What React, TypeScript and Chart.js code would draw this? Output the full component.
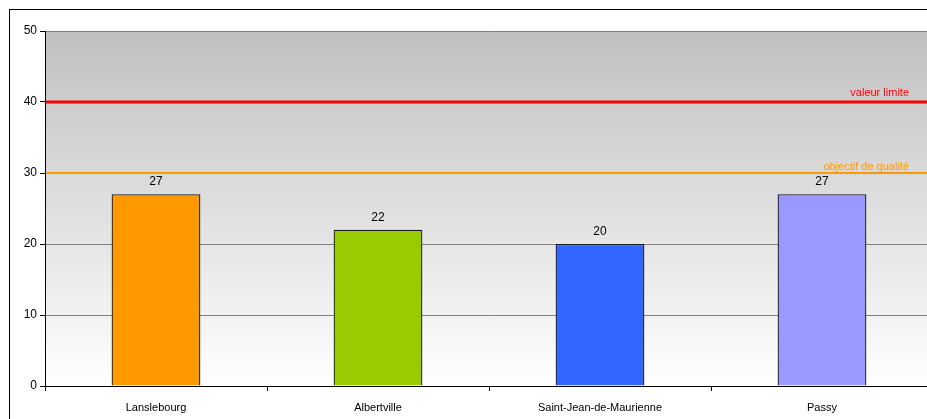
import React, { useEffect, useRef } from "react";
import { Chart, registerables } from "chart.js";

Chart.register(...registerables);

const categories = ["Lanslebourg", "Albertville", "Saint-Jean-de-Maurienne", "Passy"];
const values = [27, 22, 20, 27];
const barColors = ["#ff9900", "#99cc00", "#3366ff", "#9999ff"];
const limitValues = [40, 30];
const limitLabels = ["valeur limite", "objectif de qualité"];
const limitColors = ["#ff0000", "#ff9900"];
const limitWidths = [3, 2];
const yMin = 0;
const yMax = 50;
const yStep = 10;

const FONT = "'Liberation Sans', Arial, sans-serif";

const bgPlugin = {
  id: "bgGradient",
  beforeDraw(chart: any) {
    const { ctx, chartArea } = chart;
    if (!chartArea) return;
    const { left, top, right, bottom } = chartArea;
    const g = ctx.createLinearGradient(0, top, 0, bottom);
    g.addColorStop(0, "#c0c0c0");
    g.addColorStop(1, "#ffffff");
    ctx.save();
    ctx.fillStyle = g;
    ctx.fillRect(left, top, right - left, bottom - top);
    ctx.restore();
  },
};

const limitPlugin = {
  id: "limits",
  afterDatasetsDraw(chart: any) {
    const { ctx, chartArea, scales } = chart;
    const y = scales.y;
    ctx.save();
    limitValues.forEach((v, i) => {
      const py = y.getPixelForValue(v);
      ctx.strokeStyle = limitColors[i];
      ctx.lineWidth = limitWidths[i];
      ctx.beginPath();
      ctx.moveTo(chartArea.left + 1, py);
      ctx.lineTo(chartArea.right, py);
      ctx.stroke();
      ctx.fillStyle = limitColors[i];
      ctx.font = `11px ${FONT}`;
      ctx.textAlign = "right";
      ctx.textBaseline = "alphabetic";
      ctx.fillText(limitLabels[i], 899, py - (i === 0 ? 6 : 3));
    });
    ctx.restore();
  },
};

const valueLabelPlugin = {
  id: "valueLabels",
  afterDatasetsDraw(chart: any) {
    const { ctx } = chart;
    const meta = chart.getDatasetMeta(0);
    ctx.save();
    ctx.fillStyle = "#000";
    ctx.font = `12px ${FONT}`;
    ctx.textAlign = "center";
    ctx.textBaseline = "alphabetic";
    meta.data.forEach((bar: any, i: number) => {
      ctx.fillText(String(values[i]), bar.x, bar.y - 9);
    });
    ctx.restore();
  },
};

export default function App() {
  const ref = useRef<HTMLCanvasElement>(null);
  useEffect(() => {
    if (!ref.current) return;
    const chart = new Chart(ref.current, {
      type: "bar",
      data: {
        labels: categories,
        datasets: [
          {
            data: values,
            backgroundColor: barColors,
            borderColor: "#1a1a1a",
            borderWidth: 1.3,
            barPercentage: 0.4,
            categoryPercentage: 1,
          },
        ],
      },
      options: {
        responsive: false,
        animation: false,
        layout: { padding: { top: 21, right: 7, left: 0, bottom: 0 } },
        plugins: {
          legend: { display: false },
          tooltip: { enabled: false },
        },
        scales: {
          x: {
            afterFit: (s: any) => {
              s.height = 44;
            },
            grid: {
              drawOnChartArea: false,
              drawTicks: true,
              tickLength: 5,
              color: "#000",
              offset: true,
            },
            border: { display: true, color: "#000", width: 1 },
            ticks: {
              color: "#000",
              font: { family: FONT, size: 11 },
              padding: 10,
              maxRotation: 0,
            },
          },
          y: {
            min: yMin,
            max: yMax,
            afterFit: (s: any) => {
              s.width = 35;
            },
            grid: {
              color: "#808080",
              tickColor: "#000",
              tickLength: 5,
              lineWidth: 1,
            },
            border: { display: true, color: "#000", width: 1 },
            ticks: {
              stepSize: yStep,
              color: "#000",
              font: { family: FONT, size: 12 },
              padding: 3,
            },
          },
        },
      },
      plugins: [bgPlugin, limitPlugin, valueLabelPlugin],
    });
    return () => chart.destroy();
  }, []);

  return (
    <div
      style={{
        position: "fixed",
        left: 8,
        top: 8,
        width: 919,
        height: 411,
        overflow: "hidden",
      }}
    >
      <div
        style={{
          position: "absolute",
          left: 1,
          top: 1,
          border: "1px solid #000",
          width: 930,
          height: 420,
        }}
      >
        <canvas ref={ref} width={930} height={420} style={{ display: "block" }} />
      </div>
    </div>
  );
}
